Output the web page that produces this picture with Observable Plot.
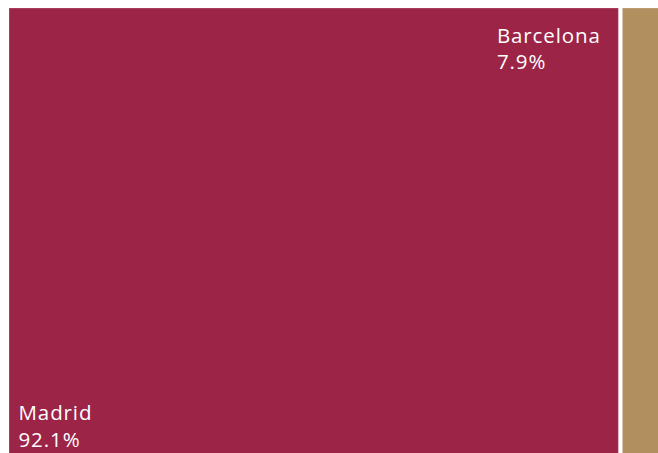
<!DOCTYPE html>
<html>
<head>
<meta charset="utf-8">
<script src="https://cdn.jsdelivr.net/npm/d3@7"></script>
<script src="https://cdn.jsdelivr.net/npm/@observablehq/plot@0.6"></script>
<style>
  html, body { margin: 0; padding: 0; background: #fff; overflow: hidden; }
  #chart svg { display: block; }
  #chart svg text { letter-spacing: 0.9px; }
</style>
</head>
<body>
<div id="chart"></div>
<script>
const cities = ["Madrid", "Barcelona"];
const shares = [92.1, 7.9];
const colors = ["#9c2447", "#b18f5f"];

let acc = 0;
const data = cities.map((c, i) => {
  const d = {city: c, share: shares[i], x1: acc, x2: acc + shares[i], color: colors[i]};
  acc += shares[i];
  return d;
});

const fmt = d => `${d.city}\n${d.share.toFixed(1)}%`;

const chart = Plot.plot({
  width: 658,
  height: 453,
  margin: 0,
  style: {fontFamily: "'Open Sans', sans-serif", background: "#fff"},
  x: {domain: [0, 100], range: [7, 673], axis: null},
  y: {domain: [0, 1], range: [470, 8], axis: null},
  marks: [
    Plot.rectY(data, {
      x1: "x1", x2: "x2", y1: 0, y2: 1,
      fill: d => d.color,
      insetLeft: 2, insetRight: 2,
      stroke: "#fff", strokeOpacity: 0.25, strokeWidth: 1
    }),
    Plot.text(data.filter(d => d.city === "Madrid"), {
      x: "x1", y: 0, text: fmt,
      textAnchor: "start", lineAnchor: "bottom",
      dx: 11, dy: -24,
      fill: "#fff", fontSize: 20.5, lineHeight: 1.28
    }),
    Plot.text(data.filter(d => d.city === "Barcelona"), {
      x: "x1", y: 1, text: fmt,
      textAnchor: "start", lineAnchor: "top",
      dx: -124, dy: 16,
      fill: "#fff", fontSize: 20.5, lineHeight: 1.28
    })
  ]
});
document.getElementById("chart").append(chart);
</script>
</body>
</html>
